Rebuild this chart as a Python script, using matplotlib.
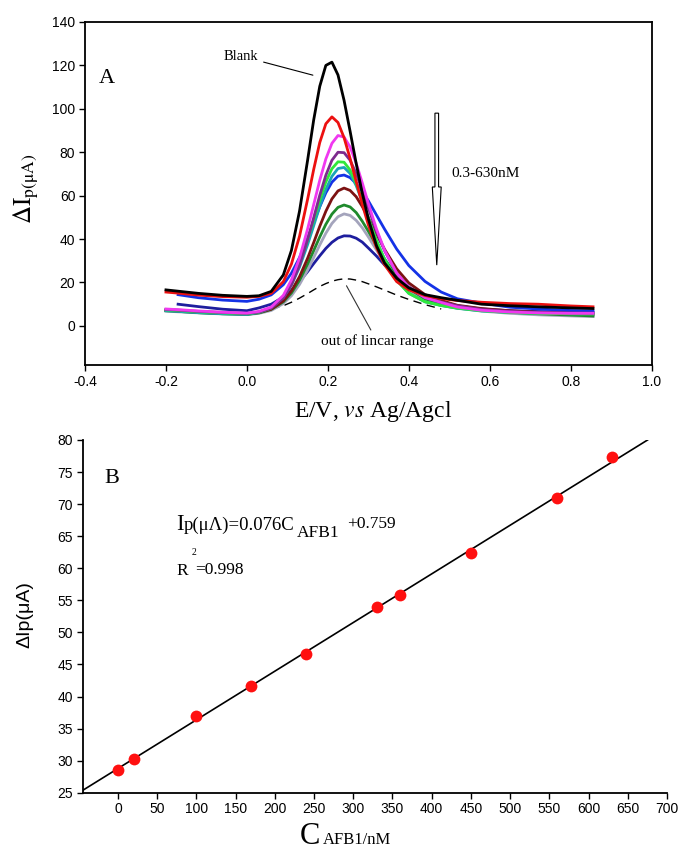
import numpy as np
import matplotlib.pyplot as plt
from matplotlib.patches import FancyArrow

plt.rcParams['font.family'] = ['Liberation Sans', 'DejaVu Sans']
plt.rcParams['mathtext.fontset'] = 'stix'
SERIF = ['Liberation Serif', 'DejaVu Serif']

# ---- panel A: DPV curves (potential in V, current in uA) ----
potential = [-0.20, -0.17, -0.12, -0.06, 0.00, 0.03, 0.06, 0.09, 0.11, 0.13,
             0.15, 0.165, 0.18, 0.195, 0.21, 0.225, 0.24, 0.255, 0.27, 0.285,
             0.30, 0.32, 0.34, 0.37, 0.40, 0.44, 0.48, 0.52, 0.58, 0.65,
             0.72, 0.80, 0.855]
nan = np.nan
blank = [16.6, 16.0, 15.0, 14.1, 13.6, 13.9, 15.9, 23.5, 34.8, 52.9,
         76.4, 94.9, 110.4, 120.0, 121.5, 115.6, 103.9, 89.6, 74.8, 61.1,
         49.3, 37.0, 29.0, 22.0, 17.5, 14.4, 13.0, 11.8, 10.0, 9.3,
         8.8, 8.3, 8.0]
c_red = [15.6, 15.1, 14.2, 13.5, 13.2, 13.6, 15.0, 20.4, 28.5, 41.3,
         58.4, 72.1, 84.5, 93.1, 96.3, 93.7, 86.7, 77.1, 66.5, 56.1,
         46.5, 36.1, 28.2, 20.4, 16.6, 14.0, 12.6, 11.7, 10.9, 10.3,
         10.0, 9.2, 8.8]
c_magenta = [7.8, 7.5, 6.9, 6.3, 5.9, 6.7, 8.7, 14.1, 21.2, 31.3,
             44.7, 55.9, 67.1, 76.9, 84.1, 87.7, 87.0, 82.4, 74.9, 65.9,
             56.4, 44.7, 34.9, 24.3, 17.6, 13.0, 10.8, 8.7, 7.2, 6.4,
             6.0, 5.8, 5.8]
c_purple = [7.6, 7.3, 6.7, 6.2, 5.8, 6.4, 8.2, 12.9, 18.9, 27.9,
            39.8, 49.8, 60.2, 69.4, 76.3, 80.0, 79.8, 76.3, 70.1, 62.5,
            54.3, 43.7, 34.7, 24.3, 18.0, 13.3, 11.0, 9.3, 7.6, 6.7,
            6.2, 6.0, 5.9]
c_green = [7.4, 7.1, 6.5, 6.0, 5.6, 6.4, 8.4, 13.6, 19.7, 28.4,
           39.6, 48.9, 58.1, 66.3, 72.4, 75.6, 75.4, 71.8, 65.6, 57.7,
           49.6, 39.3, 30.5, 21.0, 15.0, 11.1, 9.4, 8.2, 7.0, 6.2,
           5.8, 5.6, 5.5]
c_teal = [7.0, 6.7, 6.1, 5.6, 5.3, 6.2, 8.2, 13.1, 18.9, 27.1,
          37.5, 46.2, 55.0, 62.9, 68.9, 72.5, 73.0, 70.2, 64.6, 57.3,
          49.5, 39.4, 30.7, 21.1, 15.0, 11.1, 9.4, 8.1, 6.9, 6.2,
          5.8, 5.6, 5.5]
c_blue = [nan, 14.4, 13.0, 11.9, 11.3, 12.3, 14.3, 19.0, 24.3, 31.5,
          40.4, 47.7, 54.9, 61.3, 66.2, 69.0, 69.5, 68.3, 65.6, 62.0,
          57.6, 51.1, 44.6, 35.4, 27.8, 20.5, 15.6, 12.5, 10.5, 8.6,
          7.8, 7.1, 6.9]
c_maroon = [7.2, 6.9, 6.3, 5.8, 5.5, 6.2, 7.7, 11.5, 16.1, 22.7,
            31.2, 38.4, 45.9, 52.8, 58.5, 62.2, 63.5, 62.4, 59.5, 55.0,
            49.8, 42.4, 35.3, 26.3, 19.8, 14.4, 11.7, 9.5, 8.0, 7.0,
            6.3, 5.8, 5.5]
c_dkgreen = [7.0, 6.7, 6.1, 5.6, 5.3, 6.0, 7.6, 11.1, 15.2, 21.1,
             28.5, 34.7, 41.0, 46.8, 51.5, 54.6, 55.7, 54.8, 52.2, 48.2,
             43.6, 37.1, 30.9, 22.9, 17.2, 12.5, 10.1, 8.8, 7.3, 6.3,
             5.6, 5.0, 4.6]
c_gray = [6.8, 6.5, 6.0, 5.5, 5.2, 5.8, 7.1, 10.3, 13.9, 19.1,
          25.8, 31.5, 37.3, 42.7, 47.2, 50.3, 51.6, 50.9, 48.6, 45.2,
          41.0, 35.0, 29.1, 21.6, 16.2, 11.7, 9.5, 8.2, 6.8, 5.8,
          5.1, 4.6, 4.3]
c_navy = [nan, 10.0, 8.9, 7.7, 7.0, 8.3, 10.0, 13.3, 16.4, 20.4,
          25.0, 28.7, 32.3, 35.7, 38.5, 40.5, 41.5, 41.4, 40.4, 38.6,
          35.9, 32.2, 28.1, 22.4, 17.7, 13.1, 10.6, 9.2, 7.8, 7.0,
          6.6, 6.3, 6.2]
out_of_range = [nan, nan, nan, nan, nan, nan, 7.7, 9.3, 10.9, 12.8,
                14.9, 16.6, 18.2, 19.5, 20.6, 21.3, 21.7, 21.6, 21.1, 20.4,
                19.4, 18.0, 16.5, 14.2, 12.2, 9.8, 7.8, nan, nan, nan,
                nan, nan, nan]

curves = [(c_navy, '#1e1e9e'), (c_gray, '#a4a4bc'), (c_dkgreen, '#1f8a2c'),
          (c_maroon, '#7c1212'), (c_blue, '#1432e6'), (c_teal, '#1aa3b8'),
          (c_green, '#30e83a'), (c_purple, '#7d2b8e'), (c_magenta, '#f038f0'),
          (c_red, '#ec1010'), (blank, '#000000')]

# ---- panel B: calibration ----
conc = [0, 20, 100, 170, 240, 330, 360, 450, 560, 630]
peak_current = [28.6, 30.3, 37.0, 41.7, 46.7, 54.0, 55.8, 62.3, 71.0, 77.3]

fig = plt.figure(figsize=(6.82, 8.52), dpi=100)

# ================= panel A =================
axA = fig.add_axes([0.1246, 0.5716, 0.831, 0.4026])
axA.plot(potential, out_of_range, color='black', lw=1.0, linestyle=(0, (6, 4)))
for vals, col in curves:
    axA.plot(potential, vals, color=col, lw=2.0, solid_joinstyle='round')

axA.set_xlim(-0.4, 1.0)
axA.set_ylim(-18, 140)
axA.set_xticks(np.arange(-0.4, 1.01, 0.2))
axA.set_xticklabels(['-0.4', '-0.2', '0.0', '0.2', '0.4', '0.6', '0.8', '1.0'])
axA.set_yticks(np.arange(0, 141, 20))
axA.tick_params(direction='out', length=4, width=1, labelsize=10, pad=3)
for sp in axA.spines.values():
    sp.set_linewidth(1.3)

axA.text(-0.345, 114, 'A', fontsize=16, family=SERIF, ha='center', va='center')
axA.annotate('Blank', xy=(0.163, 115.5), xytext=(-0.015, 124.3), fontsize=10.5,
             family=SERIF, ha='center', va='center',
             arrowprops=dict(arrowstyle='-', lw=0.8, color='black',
                             shrinkA=2, shrinkB=0))
axA.annotate('out of lincar range', xy=(0.246, 18.5), xytext=(0.321, -6.9),
             fontsize=11, family=SERIF, ha='center', va='center',
             arrowprops=dict(arrowstyle='-', lw=0.8, color='#333333',
                             shrinkA=1, shrinkB=0))
axA.add_patch(FancyArrow(0.469, 98, 0, -70, width=0.009, head_width=0.022,
                         head_length=36, length_includes_head=True,
                         facecolor='white', edgecolor='black', lw=0.8))
axA.text(0.506, 70.2, '0.3-630nM', fontsize=11, family=SERIF, ha='left',
         va='center')

fig.text(26 / 682, 1 - 189 / 852, r'$\Delta\mathrm{I}_{\mathrm{p(\mu A)}}$',
         rotation=90, fontsize=18, ha='center', va='center')
fig.text(373 / 682, 1 - 412 / 852, r'E/V, $\mathit{vs}$ Ag/Agcl',
         fontsize=17, family=SERIF, ha='center', va='center')

# ================= panel B =================
axB = fig.add_axes([0.1211, 0.0696, 0.857, 0.414])
slope, intercept = np.polyfit(conc, peak_current, 1)
x_lo = -45
x_hi = (80 - intercept) / slope
xs = np.array([x_lo, x_hi])
axB.plot(xs, slope * xs + intercept, color='black', lw=1.2, zorder=2)
axB.plot(conc, peak_current, 'o', color='#ff1010', markersize=8.5,
         markeredgewidth=0, zorder=3)

axB.set_xlim(-45, 700)
axB.set_ylim(25, 80)
axB.set_xticks(np.arange(0, 701, 50))
axB.set_yticks(np.arange(25, 81, 5))
axB.spines['top'].set_visible(False)
axB.spines['right'].set_visible(False)
for sp in ('left', 'bottom'):
    axB.spines[sp].set_linewidth(1.3)
axB.tick_params(direction='out', length=4, width=1, labelsize=10, pad=3)

axB.text(-8, 74, 'B', fontsize=16, family=SERIF, ha='center', va='center')

# regression text, pieces offset from the "I" (offsets in pixels)
ax0, ay0 = 74.9, 66.0
pieces = [('I', 0, 0, 16.5), ('p(\u03bc\u039b)=0.076C', 6.6, 0, 13.5),
          ('AFB1', 120, -7.5, 12.5), ('+0.759', 170, 1.7, 12.5),
          ('R', 0, -45, 12.5), ('2', 14.5, -25, 7), ('=0.998', 18.5, -44, 12.5)]
for txt, dx, dy, fs in pieces:
    axB.annotate(txt, xy=(ax0, ay0), xytext=(dx * 0.72, dy * 0.72),
                 textcoords='offset points', fontsize=fs, family=SERIF,
                 ha='left', va='baseline')

fig.text(25 / 682, 1 - 615 / 852, '\u0394Ip(\u03bcA)', rotation=90,
         fontsize=14, ha='center', va='center')
fig.text(300 / 682, 1 - 844 / 852, 'C', fontsize=22, family=SERIF,
         ha='left', va='baseline')
fig.text(323 / 682, 1 - 844 / 852, 'AFB1/nM', fontsize=12, family=SERIF,
         ha='left', va='baseline')

fig.savefig('out.png', dpi=100)
